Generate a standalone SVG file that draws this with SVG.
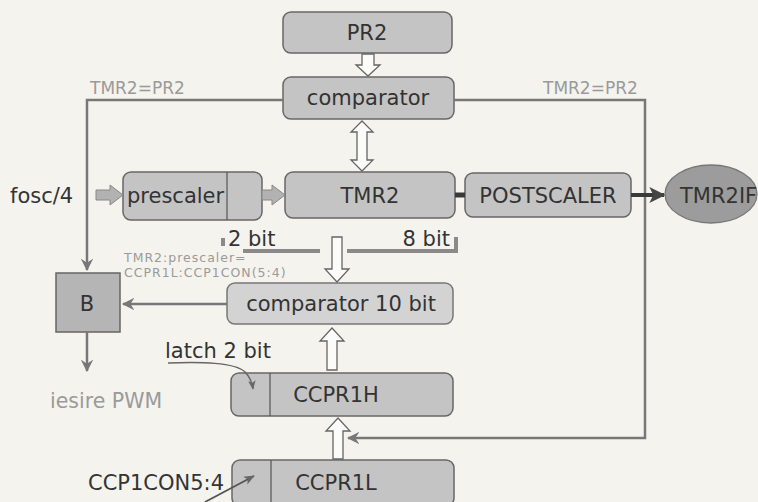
<svg xmlns="http://www.w3.org/2000/svg" width="758" height="502" viewBox="0 0 758 502">
<defs>
<style>
.box{fill:#c4c4c4;stroke:#676767;stroke-width:1.5}
.lt{fill:#d3d3d3;stroke:#777;stroke-width:1.5}
.t{font-family:"DejaVu Sans",Verdana,sans-serif;fill:#333;font-size:21px}
.g{font-family:"DejaVu Sans",Verdana,sans-serif;fill:#9a9a9a}
.hol{fill:#fbfbf8;stroke:#666;stroke-width:1.3}
.fat{fill:#b2b2b2;stroke:#888;stroke-width:1}
.ln{fill:none;stroke:#777;stroke-width:2.5}
.bus{fill:none;stroke:#8a8a8a;stroke-width:4}
</style>
<marker id="ah" viewBox="0 0 12 12" refX="11" refY="6" markerWidth="5" markerHeight="5" orient="auto" markerUnits="strokeWidth">
<path d="M0,0 L12,6 L0,12 L4,6 Z" fill="#777"/>
</marker>
<marker id="ahd" viewBox="0 0 12 12" refX="11" refY="6" markerWidth="4" markerHeight="4" orient="auto" markerUnits="strokeWidth">
<path d="M0,0 L12,6 L0,12 L3,6 Z" fill="#444"/>
</marker>
<marker id="ahs" viewBox="0 0 12 12" refX="11" refY="6" markerWidth="6" markerHeight="6" orient="auto" markerUnits="strokeWidth">
<path d="M0,1 L12,6 L0,11 L3,6 Z" fill="#666"/>
</marker>
</defs>
<rect width="758" height="502" fill="#f4f3ee"/>

<g id="pr2"><rect class="box" x="283" y="12" width="169" height="41" rx="8"/><text class="t" x="367" y="40" text-anchor="middle">PR2</text></g>
<g id="comparator"><rect class="box" x="283" y="77" width="171" height="42" rx="8"/><text class="t" x="368" y="105" text-anchor="middle">comparator</text></g>
<g id="label-left"><text class="g" x="90" y="94" font-size="17">TMR2=PR2</text></g>
<g id="label-right"><text class="g" x="543" y="94" font-size="17">TMR2=PR2</text></g>
<g id="fosc"><text class="t" x="10" y="203" font-size="22">fosc/4</text></g>
<g id="prescaler"><rect class="box" x="123" y="172" width="139" height="48" rx="8"/><line x1="227" y1="172" x2="227" y2="220" stroke="#555" stroke-width="1.2"/><text class="t" x="127" y="203">prescaler</text></g>
<g id="tmr2"><rect class="box" x="285" y="172" width="170" height="46" rx="8"/><text class="t" x="370" y="203" text-anchor="middle">TMR2</text></g>
<g id="postscaler"><rect class="box" x="465" y="173" width="166" height="44" rx="8"/><text class="t" x="548" y="203" text-anchor="middle">POSTSCALER</text></g>
<g id="tmr2if"><ellipse cx="711" cy="194" rx="46" ry="29" fill="#9c9c9c" stroke="#777" stroke-width="1.3"/><text class="t" x="680" y="203">TMR2IF</text></g>
<g id="bits"><text class="t" x="228" y="246">2 bit</text><text class="t" x="450" y="246" text-anchor="end">8 bit</text></g>
<g id="cmp-label"><text class="g" x="124" y="262" font-size="12.5" letter-spacing="1">TMR2:prescaler=</text><text class="g" x="124" y="277" font-size="12.5" letter-spacing="1">CCPR1L:CCP1CON(5:4)</text></g>
<g id="b"><rect x="56" y="273" width="64" height="59" fill="#b5b5b5" stroke="#666" stroke-width="1.5"/><text class="t" x="87" y="311" text-anchor="middle">B</text></g>
<g id="comparator10"><rect class="lt" x="227" y="283" width="226" height="41" rx="8"/><text class="t" x="341" y="311" text-anchor="middle">comparator 10 bit</text></g>
<g id="iesire"><text class="g" x="50" y="408" font-size="20.5">iesire PWM</text></g>
<g id="latch"><text class="t" x="165" y="358">latch 2 bit</text></g>
<g id="ccpr1h"><rect class="box" x="231" y="373" width="222" height="43" rx="8"/><line x1="270" y1="373" x2="270" y2="416" stroke="#555" stroke-width="1.2"/><text class="t" x="336" y="402" text-anchor="middle">CCPR1H</text></g>
<g id="ccpr1l"><rect class="box" x="232" y="460" width="222" height="46" rx="8"/><line x1="271" y1="460" x2="271" y2="506" stroke="#555" stroke-width="1.2"/><text class="t" x="336" y="490" text-anchor="middle">CCPR1L</text></g>
<g id="ccp1con"><text class="t" x="88" y="490">CCP1CON5:4</text></g>

<g id="connectors">
<polyline class="ln" points="283,100 87,100 87,270" marker-end="url(#ah)"/>
<polyline class="ln" points="454,100 645,100 645,438 348,438" marker-end="url(#ah)"/>
<line class="ln" x1="227" y1="304" x2="123" y2="304" marker-end="url(#ah)"/>
<line class="ln" x1="87" y1="332" x2="87" y2="371" marker-end="url(#ah)"/>
<line x1="455" y1="195" x2="465" y2="195" stroke="#3a3a3a" stroke-width="5"/>
<line x1="631" y1="195" x2="664" y2="195" stroke="#3a3a3a" stroke-width="4" marker-end="url(#ahd)"/>
<path d="M168,363 C200,362 235,362 245,372 C250,377 252,382 253,389" fill="none" stroke="#666" stroke-width="1.5" marker-end="url(#ahs)"/>
<line x1="205" y1="502" x2="254" y2="476" stroke="#555" stroke-width="1.8" marker-end="url(#ahs)"/>
<polygon class="fat" points="96,190 110,190 110,185 123,195 110,205 110,200 96,200"/>
<polygon class="fat" points="262,190 272,190 272,185 285,195 272,205 272,200 262,200"/>
<polygon class="hol" points="362,54 374,54 374,65 380,65 368,76 356,65 362,65"/>
<polygon class="hol" points="362,121 373,132 367,132 367,160 373,160 362,171 351,160 357,160 357,132 351,132"/>
<polyline class="bus" points="223,238 223,246"/>
<polyline class="bus" points="243,251 320,251"/>
<polyline class="bus" points="347,251 456,251 456,237"/>
<polygon class="hol" points="332,237 342,237 342,269 349,269 337,282 325,269 332,269"/>
<polygon class="hol" points="327,370 337,370 337,341 344,341 332,328 320,341 327,341"/>
<polygon class="hol" points="333,459 343,459 343,431 350,431 338,418 326,431 333,431"/>
</g>
</svg>
